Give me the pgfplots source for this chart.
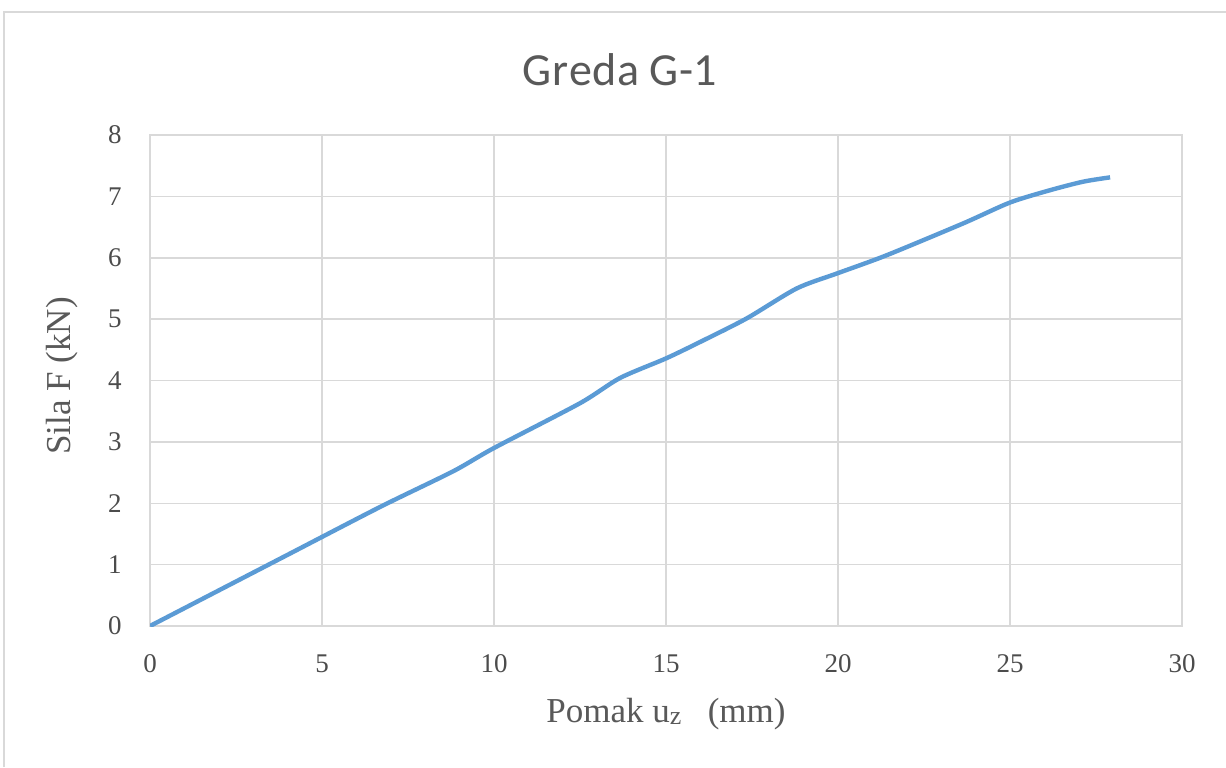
\documentclass[border=0pt]{standalone}
\usepackage{fontspec}
\setmainfont{Liberation Serif}
\newfontfamily\titlefont{Carlito}
\usepackage{pgfplots}
\pgfplotsset{compat=1.18}
\definecolor{exblue}{HTML}{5B9BD5}
\definecolor{exgrid}{HTML}{D9D9D9}
\definecolor{extext}{HTML}{595959}

\begin{document}
\begin{tikzpicture}[x=1pt,y=1pt]
% page: 1226x767 px at 0.5pt per px
\useasboundingbox[fill=white] (0,0) rectangle (613,383.5);
\draw[exgrid, line width=1pt] (2,0) -- (2,377.5) -- (613,377.5);
\begin{axis}[
    at={(75pt,70.5pt)}, anchor=south west,
    scale only axis, width=516pt, height=245.5pt,
    xmin=0, xmax=30, ymin=0, ymax=8,
    xtick={0,5,...,30}, ytick={0,1,...,8},
    grid=major,
    grid style={exgrid, line width=0.75pt},
    axis line style={exgrid, line width=0.75pt},
    tick style={draw=none},
    /pgf/number format/assume math mode=true,
    ticklabel style={font=\fontsize{13.5}{15}\selectfont, text=extext!85!black, inner sep=0pt},
    xticklabel style={yshift=-14pt},
    yticklabel style={xshift=-14pt},
]
\addplot[exblue, line width=2.2pt, smooth, tension=0.45] coordinates {
    (0,0) (2,0.58) (4,1.16) (6.69,1.94) (8.81,2.52) (10.0,2.90)
    (12.5,3.63) (13.66,4.04) (15.0,4.36) (16.0,4.63) (17.34,5.01)
    (18.8,5.50) (20.0,5.75) (21.41,6.04) (23.64,6.56) (25.0,6.90)
    (26.16,7.10) (27.13,7.24) (27.91,7.31)
};
\end{axis}
\node[text=extext, font=\titlefont\fontsize{23}{26}\selectfont] at (310,348.5) {G\kern0.3pt r\kern0.3pt e\kern0.3pt d\kern0.3pt a G\kern0.3pt -\kern0.3pt 1};
\node[text=extext, font=\fontsize{17.5}{20}\selectfont, rotate=90] at (31,195.5) {Sila F (kN)};
\node[text=extext, font=\fontsize{17.5}{20}\selectfont] at (333,26.5) {Pomak u\raisebox{-1pt}{\fontsize{13}{15}\selectfont z}\ \ \ (mm)};
\end{tikzpicture}
\end{document}
